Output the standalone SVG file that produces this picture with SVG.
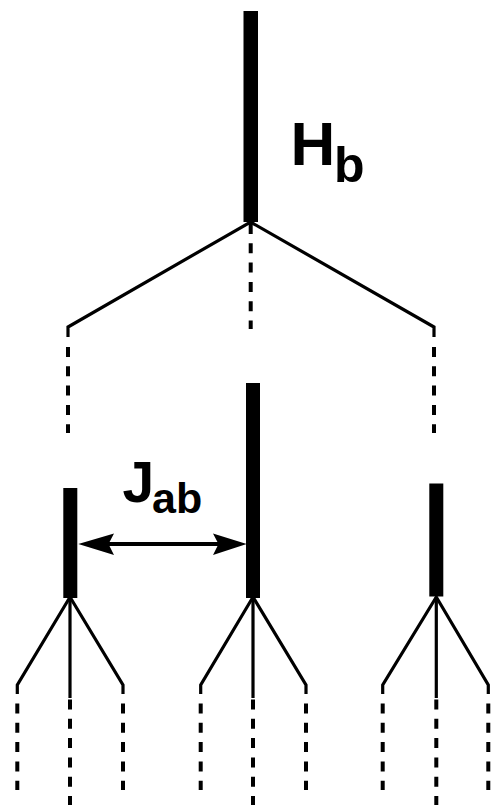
<svg xmlns="http://www.w3.org/2000/svg" width="491" height="805" viewBox="0 0 491 805">
<style>
.bar{fill:#000}
.br{fill:none;stroke:#000;stroke-width:3.2;stroke-linejoin:miter}
.dash{stroke:#000;stroke-width:4;stroke-dasharray:10 9.3;fill:none}
.solid{stroke:#000;stroke-width:3.2;fill:none}
.lbl{font-family:"Liberation Sans",Arial,sans-serif;font-weight:bold;fill:#000}
.ah{fill:#000}
</style>
<rect width="491" height="805" fill="#fff"/>
<g id="node-top">
<rect class="bar" x="243.5" y="11" width="14.5" height="211"/>
</g>
<g id="node-a">
<rect class="bar" x="63.3" y="488" width="14" height="110"/>
</g>
<g id="node-b">
<rect class="bar" x="246" y="383" width="14" height="215"/>
</g>
<g id="node-c">
<rect class="bar" x="429.3" y="483.5" width="14" height="113"/>
</g>
<g id="connectors">
<polyline class="br" points="68,337 68,327 250.5,222 434,327 434,337"/>
<line class="dash" x1="250.7" y1="224" x2="250.7" y2="329" stroke-dasharray="10 9"/>
<line class="dash" x1="68" y1="347" x2="68" y2="433" stroke-dasharray="10 9"/>
<line class="dash" x1="434" y1="347" x2="434" y2="433" stroke-dasharray="10 9"/>
<polyline class="br" points="17.3,694 17.3,685 70,597 123,685 123,694"/>
<line class="solid" x1="70" y1="597" x2="70" y2="698"/>
<line class="dash" x1="70" y1="699.5" x2="70" y2="805"/>
<line class="dash" x1="17.3" y1="703.5" x2="17.3" y2="790" stroke-dasharray="10 9"/>
<line class="dash" x1="123" y1="703.5" x2="123" y2="790" stroke-dasharray="10 9"/>
<polyline class="br" points="200.7,694 200.7,685 253,597 306,685 306,694"/>
<line class="solid" x1="253" y1="597" x2="253" y2="698"/>
<line class="dash" x1="253" y1="699.5" x2="253" y2="805"/>
<line class="dash" x1="200.7" y1="703.5" x2="200.7" y2="790" stroke-dasharray="10 9"/>
<line class="dash" x1="306" y1="703.5" x2="306" y2="790" stroke-dasharray="10 9"/>
<polyline class="br" points="382.7,694 382.7,685 436.3,597 488.3,685 488.3,694"/>
<line class="solid" x1="436.3" y1="597" x2="436.3" y2="698"/>
<line class="dash" x1="436.3" y1="699.5" x2="436.3" y2="805"/>
<line class="dash" x1="382.7" y1="703.5" x2="382.7" y2="790" stroke-dasharray="10 9"/>
<line class="dash" x1="488.3" y1="703.5" x2="488.3" y2="790" stroke-dasharray="10 9"/>
<line x1="100" y1="544" x2="225" y2="544" stroke="#000" stroke-width="4"/>
<polygon class="ah" points="78.3,544 114,533.5 108.5,544 114,555"/>
<polygon class="ah" points="246.7,544 213,533.5 218.5,544 213,555"/>
</g>
<g id="label-Hb">
<text class="lbl" x="290.5" y="165" font-size="62">H</text>
<text class="lbl" x="334" y="182" font-size="50">b</text>
</g>
<g id="label-Jab">
<text class="lbl" x="122.5" y="502" font-size="57">J</text>
<text class="lbl" x="152" y="513" font-size="43">ab</text>
</g>
</svg>
